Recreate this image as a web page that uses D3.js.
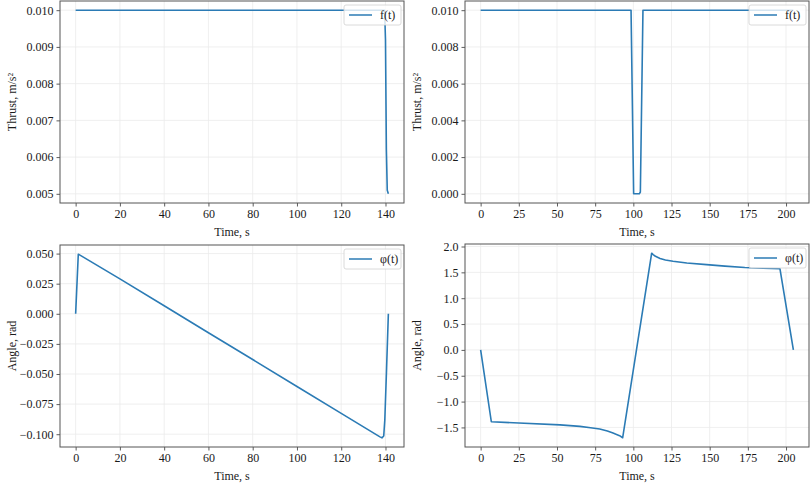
<!DOCTYPE html>
<html>
<head>
<meta charset="utf-8">
<script src="https://cdn.jsdelivr.net/npm/d3@7"></script>
<style>
  body { margin: 0; background: #fff; }
  svg { display: block; }
</style>
</head>
<body>
<svg width="811" height="485"></svg>
<script>
// thrust, first manoeuvre
var thrustT1 = [0, 139.6, 140.0, 140.4, 140.8, 141.3];
var thrustF1 = [0.01, 0.01, 0.0092, 0.0062, 0.0051, 0.005];

// thrust, second manoeuvre
var thrustT2 = [0, 98.5, 100.2, 103.9, 104.6, 106.3, 204.8];
var thrustF2 = [0.01, 0.01, 0.0, 0.0, 0.0001, 0.01, 0.01];

// angle, first manoeuvre
var angleT1 = [0, 1.2, 20, 40, 60, 80, 100, 120, 137.5, 138.4, 139.2, 139.7, 140.5, 141.3];
var angleV1 = [0, 0.0495, 0.029, 0.0067, -0.0157, -0.038, -0.0604, -0.0827, -0.1022, -0.103, -0.1015, -0.088, -0.045, 0.0];

// angle, second manoeuvre
var angleT2 = [0, 7, 25, 52, 65, 72, 78, 83, 86.7, 89, 91, 93, 112, 113, 114.5, 117.5, 121, 126, 135, 148, 160, 173, 185, 196, 204.8];
var angleV2 = [0, -1.39, -1.415, -1.45, -1.48, -1.505, -1.53, -1.57, -1.61, -1.635, -1.66, -1.70, 1.87, 1.845, 1.81, 1.77, 1.74, 1.715, 1.68, 1.65, 1.62, 1.595, 1.58, 1.57, 0];

var xTicks1 = [0, 20, 40, 60, 80, 100, 120, 140];
var xTicks2 = [0, 25, 50, 75, 100, 125, 150, 175, 200];
var yTicksF1 = [0.005, 0.006, 0.007, 0.008, 0.009, 0.010];
var yTicksF2 = [0.000, 0.002, 0.004, 0.006, 0.008, 0.010];
var yTicksA1 = [-0.100, -0.075, -0.050, -0.025, 0.000, 0.025, 0.050];
var yTicksA2 = [-1.5, -1.0, -0.5, 0.0, 0.5, 1.0, 1.5, 2.0];

var svg = d3.select('svg');
var font = '"Liberation Serif", "Times New Roman", serif';
var lineColor = '#2b7bb5';

// pad an extent by 5% like matplotlib does
function padded(arr) {
    var ext = d3.extent(arr);
    var m = (ext[1] - ext[0]) * 0.05;
    return [ext[0] - m, ext[1] + m];
}

function panel(opts) {
    var x0 = opts.left, x1 = opts.right, y0 = opts.top, y1 = opts.bottom;

    var xScale = d3.scaleLinear().domain(padded(opts.t)).range([x0, x1]);
    var yScale = d3.scaleLinear().domain(padded(opts.v)).range([y1, y0]);

    var g = svg.append('g');

    // grid
    g.append('g')
        .selectAll('line')
        .data(opts.xTicks)
        .enter().append('line')
        .attr('x1', function(d) { return xScale(d); })
        .attr('x2', function(d) { return xScale(d); })
        .attr('y1', y0).attr('y2', y1)
        .attr('stroke', '#ebebeb').attr('stroke-width', 0.8);

    g.append('g')
        .selectAll('line')
        .data(opts.yTicks)
        .enter().append('line')
        .attr('y1', function(d) { return yScale(d); })
        .attr('y2', function(d) { return yScale(d); })
        .attr('x1', x0).attr('x2', x1)
        .attr('stroke', '#ebebeb').attr('stroke-width', 0.8);

    var xAxis = d3.axisBottom(xScale)
        .tickValues(opts.xTicks)
        .tickFormat(d3.format('d'))
        .tickSize(3.5)
        .tickPadding(3);

    var yAxis = d3.axisLeft(yScale)
        .tickValues(opts.yTicks)
        .tickFormat(d3.format(opts.yFormat))
        .tickSize(3.5)
        .tickPadding(3);

    var gx = g.append('g')
        .attr('class', 'x axis')
        .attr('transform', 'translate(0,' + y1 + ')')
        .call(xAxis)
        .attr('font-family', font);

    var gy = g.append('g')
        .attr('class', 'y axis')
        .attr('transform', 'translate(' + x0 + ',0)')
        .call(yAxis)
        .attr('font-family', font);

    [gx, gy].forEach(function(a) {
        a.select('.domain').remove();
        a.selectAll('.tick line').attr('stroke', '#333').attr('stroke-width', 0.8);
        a.selectAll('.tick text')
            .attr('fill', '#1a1a1a')
            .style('font-family', font)
            .attr('font-size', 12);
    });

    // the curve
    var pts = opts.t.map(function(t, i) { return [t, opts.v[i]]; });
    var line = d3.line()
        .x(function(d) { return xScale(d[0]); })
        .y(function(d) { return yScale(d[1]); });

    g.append('path')
        .datum(pts)
        .attr('d', line)
        .attr('fill', 'none')
        .attr('stroke', lineColor)
        .attr('stroke-width', 1.6)
        .attr('stroke-linejoin', 'round');

    // frame
    g.append('rect')
        .attr('x', x0).attr('y', y0)
        .attr('width', x1 - x0).attr('height', y1 - y0)
        .attr('fill', 'none')
        .attr('stroke', '#555')
        .attr('stroke-width', 1);

    // legend
    var lw = 57, lh = 20;
    var lx = x1 - 3 - lw, ly = y0 + 4;
    g.append('rect')
        .attr('x', lx).attr('y', ly)
        .attr('width', lw).attr('height', lh)
        .attr('rx', 2)
        .attr('fill', 'white').attr('fill-opacity', 0.8)
        .attr('stroke', '#d0d0d0').attr('stroke-width', 0.8);
    g.append('line')
        .attr('x1', lx + 5).attr('x2', lx + 28)
        .attr('y1', ly + lh / 2).attr('y2', ly + lh / 2)
        .attr('stroke', lineColor).attr('stroke-width', 1.5);
    g.append('text')
        .attr('x', lx + 36).attr('y', ly + lh / 2 + 4)
        .text(opts.legend)
        .style('font-family', font)
        .attr('font-size', 12)
        .attr('fill', '#1a1a1a');

    // axis labels
    g.append('text')
        .attr('transform', 'translate(' + ((x0 + x1) / 2) + ',' + (y1 + 33) + ')')
        .attr('text-anchor', 'middle')
        .text('Time, s')
        .style('font-family', font)
        .attr('font-size', 12)
        .attr('fill', '#1a1a1a');

    g.append('text')
        .attr('transform', 'translate(' + (x0 - 44) + ',' + ((y0 + y1) / 2) + ') rotate(270)')
        .attr('text-anchor', 'middle')
        .text(opts.yLabel)
        .style('font-family', font)
        .attr('font-size', 12)
        .attr('fill', '#1a1a1a');
}

panel({ left: 60, right: 404, top: 1, bottom: 203,
        t: thrustT1, v: thrustF1, xTicks: xTicks1, yTicks: yTicksF1,
        yFormat: '.3f', legend: 'f(t)', yLabel: 'Thrust, m/s²' });

panel({ left: 465, right: 809, top: 1, bottom: 203,
        t: thrustT2, v: thrustF2, xTicks: xTicks2, yTicks: yTicksF2,
        yFormat: '.3f', legend: 'f(t)', yLabel: 'Thrust, m/s²' });

panel({ left: 60, right: 404, top: 245, bottom: 447,
        t: angleT1, v: angleV1, xTicks: xTicks1, yTicks: yTicksA1,
        yFormat: '.3f', legend: 'φ(t)', yLabel: 'Angle, rad' });

panel({ left: 465, right: 809, top: 244, bottom: 447,
        t: angleT2, v: angleV2, xTicks: xTicks2, yTicks: yTicksA2,
        yFormat: '.1f', legend: 'φ(t)', yLabel: 'Angle, rad' });
</script>
</body>
</html>
